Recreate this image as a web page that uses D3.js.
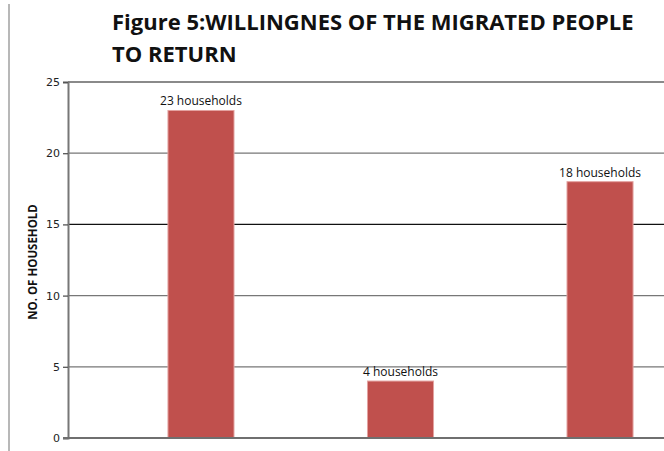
<!DOCTYPE html>
<html>
<head>
<meta charset="utf-8">
<script src="https://cdn.jsdelivr.net/npm/d3@7"></script>
<style>
  html, body { margin: 0; padding: 0; background: #fff; }
  svg { display: block; }
</style>
</head>
<body>
<div id="chart"></div>
<script>
// Households willing to return, by response group
const categories = ["A", "B", "C"];
const households = [23, 4, 18];
const barLabels = ["23 households", "4 households", "18 households"];
const yTicks = [0, 5, 10, 15, 20, 25];
const titleLines = ["Figure 5:WILLINGNES OF THE MIGRATED PEOPLE", "TO RETURN"];
const yAxisTitle = "NO. OF HOUSEHOLD";

const width = 664, height = 451;
const plot = { left: 68, right: 733, top: 82, bottom: 438 };

const svg = d3.select("#chart").append("svg")
  .attr("width", width).attr("height", height);

// page frame line on the left
svg.append("line")
  .attr("x1", 9).attr("x2", 9).attr("y1", 4).attr("y2", height)
  .attr("stroke", "#b8b8b8").attr("stroke-width", 2);

const x = d3.scaleBand()
  .domain(categories)
  .range([plot.left, plot.right])
  .paddingInner(0.669)
  .paddingOuter(0.501);

const y = d3.scaleLinear()
  .domain([0, 25])
  .range([plot.bottom, plot.top]);

// horizontal gridlines
svg.append("g").selectAll("line")
  .data(yTicks.filter(t => t > 0))
  .join("line")
  .attr("x1", plot.left).attr("x2", width)
  .attr("y1", d => y(d)).attr("y2", d => y(d))
  .attr("stroke", d => d === 15 ? "#111" : (d === 25 ? "#8a8a8a" : "#777"))
  .attr("stroke-width", d => d === 25 ? 2 : 1.3);

// bars
svg.append("g").selectAll("rect")
  .data(households)
  .join("rect")
  .attr("x", (d, i) => x(categories[i]))
  .attr("y", d => y(d))
  .attr("width", x.bandwidth())
  .attr("height", d => y(0) - y(d))
  .attr("fill", "#c0504d")
  .attr("stroke", "#e3a3a1")
  .attr("stroke-width", 1);

// value labels
svg.append("g").selectAll("text")
  .data(households)
  .join("text")
  .attr("x", (d, i) => x(categories[i]) + x.bandwidth() / 2)
  .attr("y", d => y(d) - 5)
  .attr("text-anchor", "middle")
  .attr("font-family", "'Open Sans', 'Liberation Sans', sans-serif")
  .attr("font-size", 12)
  .attr("fill", "#111")
  .text((d, i) => barLabels[i]);

// y axis
const yAxis = d3.axisLeft(y).tickValues(yTicks).tickSize(5).tickPadding(3);
const gy = svg.append("g")
  .attr("transform", `translate(${plot.left},0)`)
  .call(yAxis);
gy.select(".domain").attr("stroke", "#777").attr("stroke-width", 2);
gy.selectAll(".tick line").attr("stroke", "#555").attr("stroke-width", 1.3);
gy.selectAll(".tick text")
  .attr("font-family", "'DejaVu Sans', sans-serif")
  .attr("font-size", 11)
  .attr("fill", "#222");

// baseline
svg.append("line")
  .attr("x1", plot.left - 5).attr("x2", width)
  .attr("y1", y(0)).attr("y2", y(0))
  .attr("stroke", "#6f6f6f").attr("stroke-width", 2);

// y axis title
svg.append("text")
  .attr("transform", `translate(37,${(plot.top + plot.bottom) / 2 + 2}) rotate(-90)`)
  .attr("text-anchor", "middle")
  .attr("font-family", "'Open Sans', sans-serif")
  .attr("font-weight", "bold")
  .attr("font-size", 11.5)
  .attr("fill", "#111")
  .text(yAxisTitle);

// chart title
svg.append("g").selectAll("text")
  .data(titleLines)
  .join("text")
  .attr("x", 112)
  .attr("y", (d, i) => 30 + i * 32)
  .attr("font-family", "'Open Sans', sans-serif")
  .attr("font-weight", "bold")
  .attr("font-size", 22)
  .attr("fill", "#111")
  .text(d => d);
</script>
</body>
</html>
